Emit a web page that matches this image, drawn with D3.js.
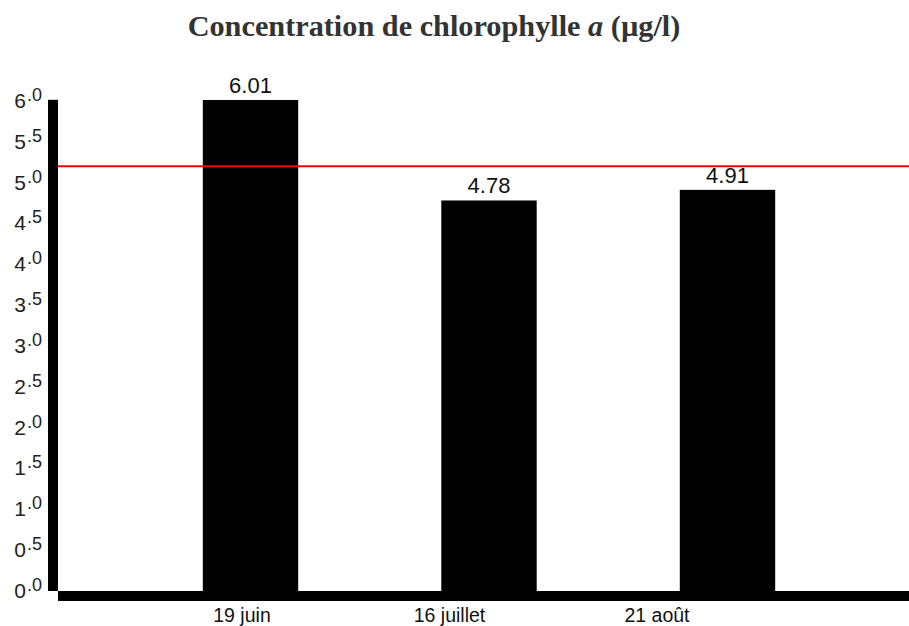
<!DOCTYPE html>
<html>
<head>
<meta charset="utf-8">
<script src="https://cdn.jsdelivr.net/npm/d3@7"></script>
<style>
  body { margin: 0; background: #fff; }
  svg { display: block; }
</style>
</head>
<body>
<svg id="chart" width="909" height="626"></svg>
<script>
// Données
const categories = ['19 juin', '16 juillet', '21 août'];
const values = [6.01, 4.78, 4.91];
const seuil = 5.2;
const yTicks = [0, 0.5, 1, 1.5, 2, 2.5, 3, 3.5, 4, 4.5, 5, 5.5, 6];

const svg = d3.select('#chart');
const W = 909;

// Escalas
const y = d3.scaleLinear().domain([0, 6]).range([591, 100.8]);
const x = d3.scaleBand().domain(categories)
  .range([131.25, 846.75]).paddingInner(0.6).paddingOuter(0.3);
// les étiquettes de l'axe X ne sont pas centrées sur les barres
const xLabel = d3.scalePoint().domain(categories).range([242, 657]);

// Titre
const title = svg.append('text')
  .attr('x', 434)
  .attr('y', 36)
  .attr('text-anchor', 'middle')
  .style('font-family', '"Liberation Serif", "DejaVu Serif", serif')
  .style('font-weight', 'bold')
  .style('font-size', '30px')
  .style('fill', '#333');
title.append('tspan').text('Concentration de chlorophylle ');
title.append('tspan').style('font-style', 'italic').text('a');
title.append('tspan').text(' (µg/l)');
// ajuster la taille pour la largeur voulue
const tw = title.node().getComputedTextLength();
title.style('font-size', (30 * 493 / tw).toFixed(2) + 'px');

// Barres
svg.append('g')
  .selectAll('rect')
  .data(values)
  .join('rect')
  .attr('x', (d, i) => x(categories[i]))
  .attr('width', x.bandwidth())
  .attr('y', d => y(d))
  .attr('height', d => y(0) - y(d))
  .style('fill', '#000');

// Valeurs
svg.append('g')
  .selectAll('text')
  .data(values)
  .join('text')
  .attr('x', (d, i) => x(categories[i]) + x.bandwidth() / 2)
  .attr('y', d => y(d) - 7)
  .attr('text-anchor', 'middle')
  .style('font-family', '"Liberation Sans", Arial, sans-serif')
  .style('font-size', '22px')
  .style('fill', '#111')
  .text(d => d.toFixed(2));

// Ligne rouge
svg.append('line')
  .attr('x1', 58).attr('x2', W)
  .attr('y1', y(seuil)).attr('y2', y(seuil))
  .style('stroke', '#f00')
  .style('stroke-width', 2);

// Axe Y (barre épaisse)
svg.append('rect')
  .attr('x', 48).attr('width', 10)
  .attr('y', y(6) - 1).attr('height', y(0) - y(6) + 1)
  .style('fill', '#000');

// Axe X (barre épaisse)
svg.append('rect')
  .attr('x', 58).attr('width', W - 58)
  .attr('y', y(0)).attr('height', 10)
  .style('fill', '#000');

// Étiquettes Y : chiffre + ".d" surélevé
const tickG = svg.append('g')
  .style('font-family', '"Liberation Sans", Arial, sans-serif')
  .style('fill', '#222');
yTicks.forEach(t => {
  const s = t.toFixed(1).split('.');
  const tx = tickG.append('text')
    .attr('x', 42)
    .attr('y', y(t) + 7)
    .attr('text-anchor', 'end')
    .style('font-size', '21px');
  tx.append('tspan').text(s[0]);
  tx.append('tspan').attr('dy', -7).attr('dx', 1).style('font-size', '18px').text('.' + s[1]);
});

// Étiquettes X
svg.append('g')
  .selectAll('text')
  .data(categories)
  .join('text')
  .attr('x', d => xLabel(d))
  .attr('y', 622)
  .attr('text-anchor', 'middle')
  .style('font-family', '"Liberation Sans", Arial, sans-serif')
  .style('font-size', '19.5px')
  .style('fill', '#111')
  .text(d => d);
</script>
</body>
</html>
